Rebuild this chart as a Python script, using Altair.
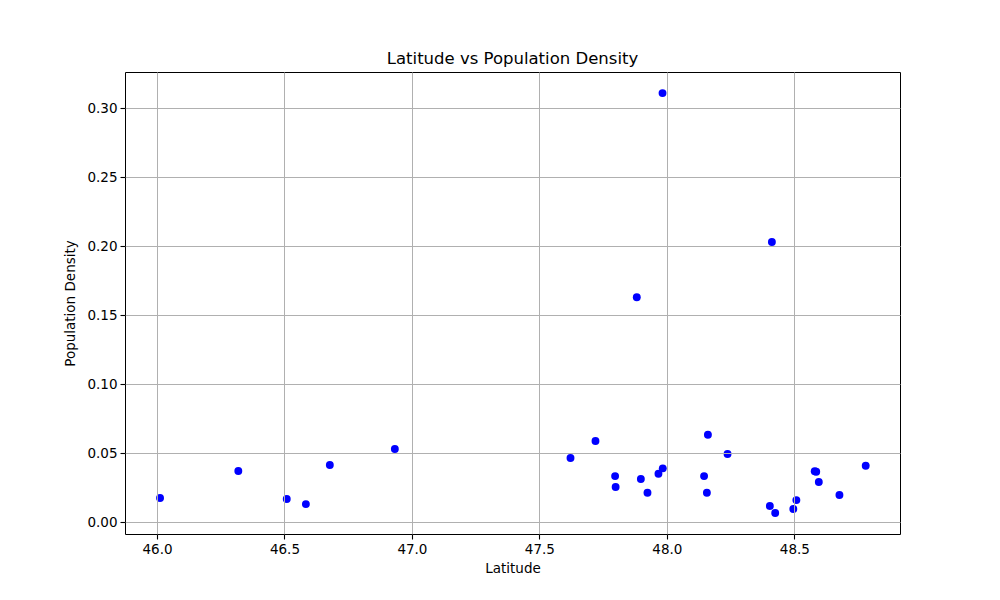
import altair as alt
import pandas as pd

latitude = [46.012, 46.319, 46.509, 46.584, 46.678, 46.933,
            47.622, 47.720, 47.797, 47.799, 47.898, 47.924, 47.967, 47.984,
            47.882, 47.983,
            48.146, 48.157, 48.161, 48.238,
            48.404, 48.412, 48.425, 48.496, 48.508,
            48.580, 48.586, 48.596, 48.677, 48.780]
density = [0.0174, 0.0370, 0.0167, 0.0130, 0.0413, 0.0529,
           0.0464, 0.0587, 0.0333, 0.0254, 0.0312, 0.0212, 0.0350, 0.0389,
           0.1630, 0.3110,
           0.0333, 0.0212, 0.0633, 0.0493,
           0.0116, 0.2030, 0.0065, 0.0094, 0.0159,
           0.0368, 0.0364, 0.0290, 0.0196, 0.0408]

x_ticks = [46.0, 46.5, 47.0, 47.5, 48.0, 48.5]
y_ticks = [0.00, 0.05, 0.10, 0.15, 0.20, 0.25, 0.30]

df = pd.DataFrame({"Latitude": latitude, "Population Density": density})

FONT = "DejaVu Sans"

chart = alt.Chart(df).mark_circle(size=62, color="#0000ff", opacity=1).encode(
    x=alt.X("Latitude:Q",
            scale=alt.Scale(domain=[45.8745, 48.9145], nice=False, zero=False),
            axis=alt.Axis(values=x_ticks, format=".1f", title="Latitude",
                          zindex=1)),
    y=alt.Y("Population Density:Q",
            scale=alt.Scale(domain=[-0.0087, 0.3263], nice=False, zero=False),
            axis=alt.Axis(values=y_ticks, format=".2f", title="Population Density",
                          zindex=1)),
).properties(
    width=775,
    height=462,
    title=alt.TitleParams("Latitude vs Population Density", font=FONT,
                          fontSize=16.5, fontWeight="normal", color="black",
                          offset=5),
    autosize=alt.AutoSizeParams(type="none"),
    padding={"left": 117, "top": 64, "right": 92, "bottom": 58},
).configure_view(
    stroke="black", strokeWidth=1
).configure_axis(
    labelFont=FONT, labelFontSize=13.5, labelColor="black",
    titleFont=FONT, titleFontSize=13.5, titleColor="black", titleFontWeight="normal",
    grid=True, gridColor="#b0b0b0", gridWidth=1,
    domain=False,
    tickColor="black", tickSize=5, tickWidth=1.1,
    labelPadding=3,
).configure_axisX(
    titlePadding=6
).configure_axisY(
    titlePadding=9
)

chart.save("out.html", embed_options={"renderer": "svg", "actions": False})
